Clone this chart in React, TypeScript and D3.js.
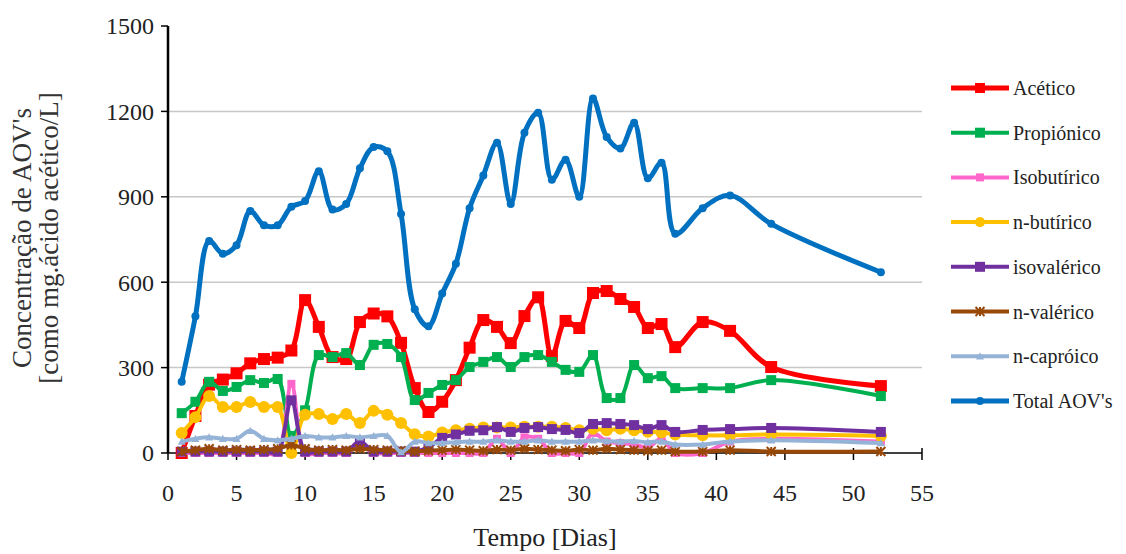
import { useRef, useEffect } from 'react';
import * as d3 from 'd3';

const W = 1126;
const H = 554;

const days = [
  1, 2, 3, 4, 5, 6, 7, 8, 9, 10, 11, 12, 13, 14, 15, 16, 17, 18, 19, 20,
  21, 22, 23, 24, 25, 26, 27, 28, 29, 30, 31, 32, 33, 34, 35, 36, 37, 39, 41, 44, 52,
];

const acetico = [
  0, 130, 240, 258, 280, 315, 330, 335, 360, 537, 443, 337, 330, 460, 490, 480, 387, 228, 144, 180,
  256, 370, 467, 443, 386, 481, 547, 341, 464, 439, 562, 569, 541, 513, 439, 453, 372, 460, 429, 302, 235,
];
const propionico = [
  140, 180, 250, 218, 232, 256, 246, 260, 60, 150, 344, 337, 351, 309, 380, 383, 337, 186, 211, 239,
  256, 302, 320, 337, 302, 337, 344, 320, 292, 285, 344, 193, 193, 309, 263, 270, 228, 228, 228, 256, 200,
];
const isobutirico = [
  0, 0, 0, 0, 0, 0, 0, 0, 243, 0, 0, 0, 0, 25, 0, 0, 0, 0, 0, 0,
  0, 0, 0, 50, 0, 55, 50, 0, 0, 0, 70, 40, 35, 30, 20, 50, 0, 0, 40, 50, 40,
];
const butirico = [
  70, 126, 200, 162, 162, 179, 162, 162, 0, 134, 137, 119, 137, 105, 148, 134, 105, 66, 58, 72,
  80, 85, 90, 90, 90, 92, 92, 92, 88, 80, 85, 80, 85, 80, 75, 72, 65, 62, 62, 65, 60,
];
const isovalerico = [
  5, 5, 5, 5, 5, 5, 5, 5, 185, 5, 5, 5, 5, 40, 5, 5, 5, 5, 20, 53,
  65, 78, 80, 91, 74, 88, 91, 84, 81, 70, 102, 105, 102, 98, 84, 98, 74, 81, 84, 88, 74,
];
const valerico = [
  5, 10, 15, 10, 12, 10, 12, 15, 28, 15, 10, 12, 10, 15, 12, 10, 8, 5, 8, 10,
  12, 10, 8, 12, 10, 15, 12, 10, 8, 12, 10, 15, 12, 10, 8, 10, 5, 5, 10, 5, 5,
];
const caproico = [
  40, 50, 55, 50, 50, 78, 50, 45, 50, 60, 55, 55, 60, 55, 60, 60, 3, 40, 35, 35,
  38, 40, 40, 45, 40, 40, 45, 40, 40, 40, 45, 42, 40, 42, 38, 40, 30, 30, 40, 45, 35,
];
const total = [
  250, 480, 745, 700, 730, 850, 800, 800, 865, 885, 990, 855, 875, 1000, 1075, 1060, 840, 505, 445, 560,
  665, 860, 975, 1090, 875, 1125, 1195, 960, 1030, 900, 1245, 1110, 1070, 1160, 965, 1020, 770, 860, 905, 805, 635,
];

const yTicks = [0, 300, 600, 900, 1200, 1500];
const xTicks = [0, 5, 10, 15, 20, 25, 30, 35, 40, 45, 50, 55];

const series = [
  { name: 'Acético', values: acetico, color: '#ff0000', width: 5, marker: 'square', size: 12 },
  { name: 'Propiónico', values: propionico, color: '#00b050', width: 4, marker: 'square', size: 10 },
  { name: 'Isobutírico', values: isobutirico, color: '#ff66cc', width: 4, marker: 'square', size: 8 },
  { name: 'n-butírico', values: butirico, color: '#ffc000', width: 4, marker: 'circle', size: 12 },
  { name: 'isovalérico', values: isovalerico, color: '#7030a0', width: 4, marker: 'square', size: 10 },
  { name: 'n-valérico', values: valerico, color: '#984807', width: 4, marker: 'star', size: 9 },
  { name: 'n-capróico', values: caproico, color: '#95b3d7', width: 4, marker: 'triangle', size: 8 },
  { name: "Total AOV's", values: total, color: '#0070c0', width: 5, marker: 'circle', size: 8 },
];

const FONT = '"Liberation Serif", "Times New Roman", serif';

function drawMarker(g, type, x, y, size, color) {
  if (type === 'square') {
    g.append('rect')
      .attr('x', x - size / 2)
      .attr('y', y - size / 2)
      .attr('width', size)
      .attr('height', size)
      .attr('fill', color);
  } else if (type === 'circle') {
    g.append('circle').attr('cx', x).attr('cy', y).attr('r', size / 2).attr('fill', color);
  } else if (type === 'triangle') {
    const s = size / 2;
    g.append('path')
      .attr('d', `M${x},${y - s}L${x + s},${y + s * 0.8}L${x - s},${y + s * 0.8}Z`)
      .attr('fill', color);
  } else if (type === 'star') {
    const s = size / 2;
    g.append('path')
      .attr('d', `M${x - s},${y - s}L${x + s},${y + s}M${x - s},${y + s}L${x + s},${y - s}M${x},${y - s}L${x},${y + s}`)
      .attr('stroke', color)
      .attr('stroke-width', 2)
      .attr('fill', 'none');
  }
}

function Chart() {
  const svgRef = useRef(null);

  useEffect(() => {
    const svg = d3.select(svgRef.current);
    svg.selectAll('*').remove();

    const x = d3.scaleLinear().domain([0, 55]).range([168, 922]);
    const y = d3.scaleLinear().domain([0, 1500]).range([453, 26]);

    // gridlines
    svg
      .append('g')
      .selectAll('line')
      .data(yTicks.filter((t) => t > 0 && t < 1500))
      .join('line')
      .attr('x1', x(0))
      .attr('x2', x(55))
      .attr('y1', (d) => y(d))
      .attr('y2', (d) => y(d))
      .attr('stroke', '#c8c8c8')
      .attr('stroke-width', 1.5);

    // axes
    svg
      .append('line')
      .attr('x1', x(0))
      .attr('x2', x(0))
      .attr('y1', y(0))
      .attr('y2', y(1500))
      .attr('stroke', '#000')
      .attr('stroke-width', 2.5);
    svg
      .append('line')
      .attr('x1', x(0))
      .attr('x2', x(55))
      .attr('y1', y(0))
      .attr('y2', y(0))
      .attr('stroke', '#000')
      .attr('stroke-width', 1.5);

    svg
      .append('g')
      .selectAll('line')
      .data(yTicks)
      .join('line')
      .attr('x1', x(0) - 7)
      .attr('x2', x(0))
      .attr('y1', (d) => y(d))
      .attr('y2', (d) => y(d))
      .attr('stroke', '#000')
      .attr('stroke-width', 1.5);

    svg
      .append('g')
      .selectAll('text')
      .data(yTicks)
      .join('text')
      .attr('x', x(0) - 14)
      .attr('y', (d) => y(d))
      .attr('dy', '0.35em')
      .attr('text-anchor', 'end')
      .attr('font-family', FONT)
      .attr('font-size', 24)
      .attr('fill', '#222')
      .text((d) => d);

    svg
      .append('g')
      .selectAll('line')
      .data(xTicks)
      .join('line')
      .attr('x1', (d) => x(d))
      .attr('x2', (d) => x(d))
      .attr('y1', y(0) - 5)
      .attr('y2', y(0) + 7)
      .attr('stroke', '#000')
      .attr('stroke-width', 1.5);

    svg
      .append('g')
      .selectAll('text')
      .data(xTicks)
      .join('text')
      .attr('x', (d) => x(d))
      .attr('y', 493)
      .attr('dy', '0.35em')
      .attr('text-anchor', 'middle')
      .attr('font-family', FONT)
      .attr('font-size', 24)
      .attr('fill', '#222')
      .text((d) => d);

    // axis titles
    svg
      .append('text')
      .attr('x', 545)
      .attr('y', 537)
      .attr('dy', '0.35em')
      .attr('text-anchor', 'middle')
      .attr('font-family', FONT)
      .attr('font-size', 26)
      .attr('fill', '#222')
      .text('Tempo [Dias]');

    const yt = svg
      .append('text')
      .attr('transform', 'translate(0,238) rotate(-90)')
      .attr('text-anchor', 'middle')
      .attr('font-family', FONT)
      .attr('font-size', 27)
      .attr('fill', '#333');
    yt.append('tspan').attr('x', 0).attr('y', 22).attr('dy', '0.35em').text("Concentração de AOV's");
    yt.append('tspan').attr('x', 0).attr('y', 49).attr('dy', '0.35em').text('[como mg.ácido acético/L]');

    // series
    const line = d3
      .line()
      .x((d) => x(d[0]))
      .y((d) => y(d[1]))
      .curve(d3.curveCatmullRom.alpha(0.5));

    series.forEach((s) => {
      const pts = days.map((d, i) => [d, s.values[i]]);
      const g = svg.append('g');
      g.append('path')
        .attr('d', line(pts))
        .attr('fill', 'none')
        .attr('stroke', s.color)
        .attr('stroke-width', s.width)
        .attr('stroke-linejoin', 'round');
      pts.forEach((p) => drawMarker(g, s.marker, x(p[0]), y(p[1]), s.size, s.color));
    });

    // legend
    const leg = svg.append('g');
    series.forEach((s, i) => {
      const ly = 88 + i * 44.7;
      leg
        .append('line')
        .attr('x1', 951)
        .attr('x2', 1009)
        .attr('y1', ly)
        .attr('y2', ly)
        .attr('stroke', s.color)
        .attr('stroke-width', s.width);
      drawMarker(leg, s.marker, 980, ly, Math.min(s.size, 10), s.color);
      leg
        .append('text')
        .attr('x', 1013)
        .attr('y', ly)
        .attr('dy', '0.35em')
        .attr('font-family', FONT)
        .attr('font-size', 20)
        .attr('fill', '#222')
        .text(s.name);
    });
  }, []);

  return (
    <svg
      ref={svgRef}
      width={W}
      height={H}
      style={{ position: 'absolute', left: 0, top: 0, background: '#fff' }}
    />
  );
}

export default function App() {
  return <Chart />;
}
